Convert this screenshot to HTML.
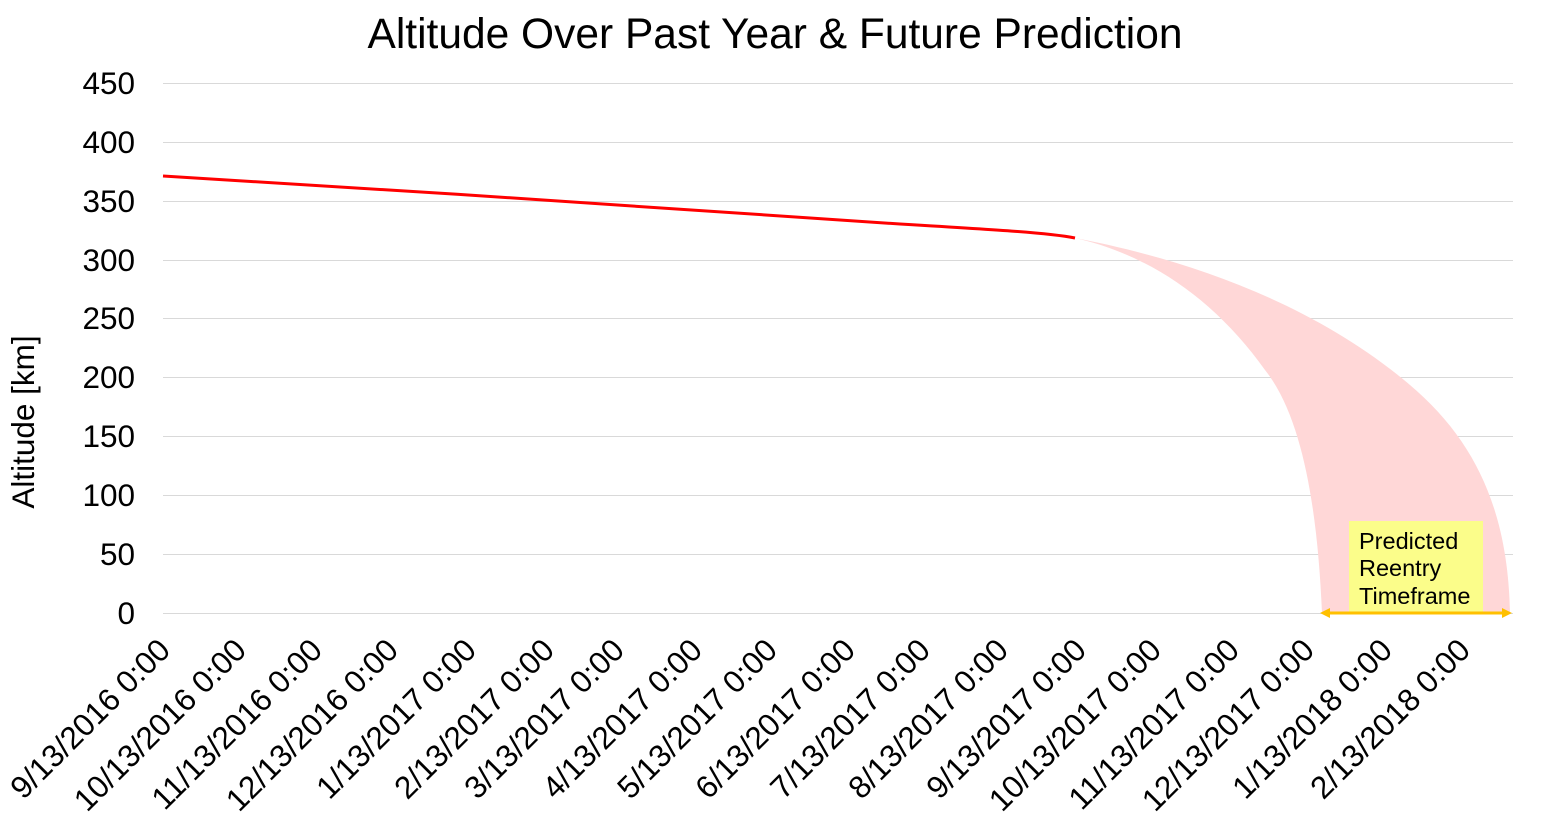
<!DOCTYPE html>
<html><head><meta charset="utf-8"><style>body{margin:0;background:#fff}svg{display:block}</style></head>
<body>
<svg width="1551" height="829" xmlns="http://www.w3.org/2000/svg" font-family="Liberation Sans, Arial, sans-serif">
<text x="775" y="48" font-size="42.5" text-anchor="middle">Altitude Over Past Year &amp; Future Prediction</text>
<g stroke="#d9d9d9" stroke-width="1">
<line x1="163" x2="1513" y1="83.5" y2="83.5"/><line x1="163" x2="1513" y1="142.5" y2="142.5"/>
<line x1="163" x2="1513" y1="201.5" y2="201.5"/><line x1="163" x2="1513" y1="260.5" y2="260.5"/>
<line x1="163" x2="1513" y1="318.5" y2="318.5"/><line x1="163" x2="1513" y1="377.5" y2="377.5"/>
<line x1="163" x2="1513" y1="436.5" y2="436.5"/><line x1="163" x2="1513" y1="495.5" y2="495.5"/>
<line x1="163" x2="1513" y1="554.5" y2="554.5"/><line x1="163" x2="1513" y1="613.5" y2="613.5"/>
</g>
<g font-size="31.5" text-anchor="end">
<text x="135" y="94">450</text><text x="135" y="153">400</text><text x="135" y="212">350</text>
<text x="135" y="271">300</text><text x="135" y="329">250</text><text x="135" y="388">200</text>
<text x="135" y="447">150</text><text x="135" y="506">100</text><text x="135" y="565">50</text>
<text x="135" y="624">0</text>
</g>
<text transform="translate(34,422) rotate(-90)" font-size="31.5" text-anchor="middle">Altitude [km]</text>
<path d="M1075,238 C1180,258 1310,300 1410,385 C1475,440 1508,510 1510,613 L1322,613 C1318,520 1305,420 1265,370 C1215,300 1150,255 1075,238 Z" fill="#ffd7d7"/>
<path d="M163,176 C400,190 700,210 900,224 C1000,230 1050,233 1075,238" fill="none" stroke="#ff0000" stroke-width="3"/>
<rect x="1349" y="521" width="134" height="91" fill="#fbfd8a"/>
<text font-size="23.5" x="1359" y="549">Predicted</text>
<text font-size="23.5" x="1359" y="576">Reentry</text>
<text font-size="23.5" x="1359" y="604">Timeframe</text>
<line x1="1328" y1="613" x2="1504" y2="613" stroke="#ffc000" stroke-width="3"/>
<path d="M1320,613 L1330,608 L1330,618 Z M1512,613 L1502,608 L1502,618 Z" fill="#ffc000"/>
<g font-size="31.5" text-anchor="end">
<text transform="translate(172,652) rotate(-45)">9/13/2016 0:00</text>
<text transform="translate(248,652) rotate(-45)">10/13/2016 0:00</text>
<text transform="translate(324,652) rotate(-45)">11/13/2016 0:00</text>
<text transform="translate(400,652) rotate(-45)">12/13/2016 0:00</text>
<text transform="translate(478,652) rotate(-45)">1/13/2017 0:00</text>
<text transform="translate(556,652) rotate(-45)">2/13/2017 0:00</text>
<text transform="translate(626,652) rotate(-45)">3/13/2017 0:00</text>
<text transform="translate(704,652) rotate(-45)">4/13/2017 0:00</text>
<text transform="translate(779,652) rotate(-45)">5/13/2017 0:00</text>
<text transform="translate(857,652) rotate(-45)">6/13/2017 0:00</text>
<text transform="translate(932,652) rotate(-45)">7/13/2017 0:00</text>
<text transform="translate(1010,652) rotate(-45)">8/13/2017 0:00</text>
<text transform="translate(1088,652) rotate(-45)">9/13/2017 0:00</text>
<text transform="translate(1163,652) rotate(-45)">10/13/2017 0:00</text>
<text transform="translate(1241,652) rotate(-45)">11/13/2017 0:00</text>
<text transform="translate(1316,652) rotate(-45)">12/13/2017 0:00</text>
<text transform="translate(1394,652) rotate(-45)">1/13/2018 0:00</text>
<text transform="translate(1472,652) rotate(-45)">2/13/2018 0:00</text>
</g>
</svg>
</body></html>
